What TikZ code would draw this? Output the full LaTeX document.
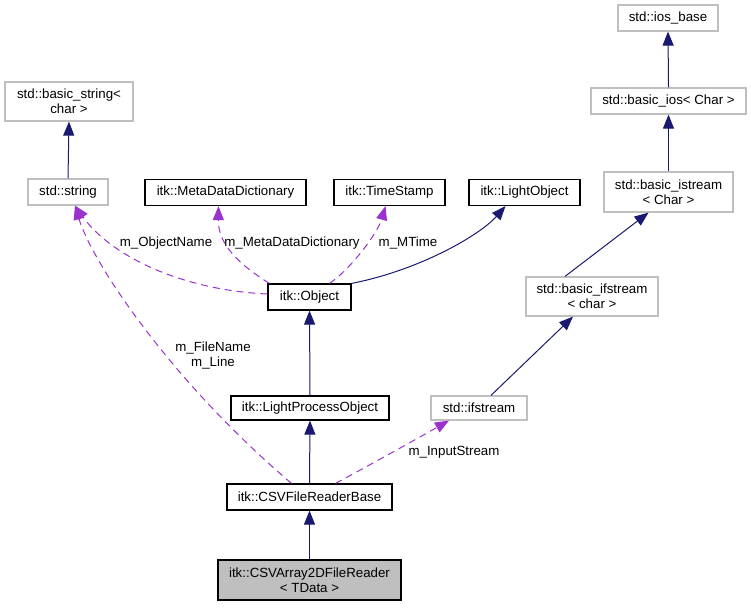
\documentclass[tikz,border=0pt]{standalone}
\usepackage{fontspec}
\setmainfont{Liberation Sans}
\usetikzlibrary{arrows.meta}
\definecolor{navy}{HTML}{191970}
\definecolor{usecol}{HTML}{9A32CD}
\definecolor{stdgray}{HTML}{BFBFBF}
\definecolor{fillgray}{HTML}{BFBFBF}
\begin{document}
\begin{tikzpicture}[x=1pt,y=-1pt,font=\fontsize{13.3}{15}\selectfont,
  box/.style={line width=1.2pt, inner sep=0pt, align=center},
  itkbox/.style={box, draw=black},
  stdbox/.style={box, draw=stdgray},
  mainbox/.style={box, draw=black, fill=fillgray},
  inh/.style={draw=navy, line width=1pt, -{Triangle[length=14pt,width=11pt,fill=navy]}},
  usedep/.style={draw=usecol, line width=1pt, dash pattern=on 7pt off 5pt, -{Triangle[length=14pt,width=11pt,fill=usecol]}},
  lbl/.style={inner sep=0pt, align=center}]
\useasboundingbox (0,0) rectangle (751,607);
% nodes
\node[stdbox, minimum width=128pt, minimum height=39pt] (bstr) at (69,101.5) {std::basic\_string<\\char >};
\node[stdbox, minimum width=80pt, minimum height=26pt] (str) at (68,192) {std::string};
\node[itkbox, minimum width=161pt, minimum height=26pt] (mdd) at (225.5,192.5) {itk::MetaDataDictionary};
\node[itkbox, minimum width=111pt, minimum height=26pt] (ts) at (389.5,192.5) {itk::TimeStamp};
\node[itkbox, minimum width=111pt, minimum height=26pt] (lo) at (524.5,192.5) {itk::LightObject};
\node[stdbox, minimum width=100pt, minimum height=26pt] (iosb) at (668,18) {std::ios\_base};
\node[stdbox, minimum width=155pt, minimum height=26pt] (bios) at (668.5,101) {std::basic\_ios< Char >};
\node[stdbox, minimum width=129pt, minimum height=40pt] (bis) at (668.5,192) {std::basic\_istream\\< Char >};
\node[itkbox, minimum width=83pt, minimum height=26pt] (obj) at (309.5,297) {itk::Object};
\node[stdbox, minimum width=132pt, minimum height=39pt] (bifs) at (592,296.5) {std::basic\_ifstream\\< char >};
\node[itkbox, minimum width=158pt, minimum height=24pt] (lpo) at (310,408) {itk::LightProcessObject};
\node[stdbox, minimum width=96pt, minimum height=24pt] (ifs) at (479,408) {std::ifstream};
\node[itkbox, minimum width=165pt, minimum height=26pt] (csvb) at (309.5,497) {itk::CSVFileReaderBase};
\node[mainbox, minimum width=183pt, minimum height=40pt] (csv) at (309.5,580) {itk::CSVArray2DFileReader\\< TData >};
% inheritance
\draw[inh] (str.north) -- (bstr.south);
\draw[inh] (bios.north) -- (iosb.south);
\draw[inh] (bis.north) -- (bios.south);
\draw[inh] ([xshift=-27pt]bifs.north) -- ([xshift=-20pt]bis.south);
\draw[inh] ([xshift=12pt]ifs.north) -- ([xshift=-19pt]bifs.south);
\draw[inh] (obj.north east) .. controls (420,270) and (480,235) .. ([xshift=-19pt]lo.south);
\draw[inh] (lpo.north) -- (obj.south);
\draw[inh] (csvb.north) -- (lpo.south);
\draw[inh] (csv.north) -- (csvb.south);
% usage
\draw[usedep] ([yshift=3pt]obj.west) .. controls (180,290) and (110,255) .. ([xshift=7pt]str.south);
\draw[usedep] ([xshift=2pt]obj.north west) .. controls (240,265) and (218,245) .. ([xshift=-7pt]mdd.south);
\draw[usedep] ([xshift=20pt]obj.north) .. controls (352,268) and (378,232) .. ([xshift=-4pt]ts.south);
\draw[usedep] ([xshift=-18pt]csvb.north) .. controls (170,380) and (92,262) .. ([xshift=7pt]str.south);
\draw[usedep] ([xshift=26pt]csvb.north) .. controls (370,465) and (420,437) .. ([xshift=-30pt]ifs.south);
% labels
\node[lbl] (l1) at (166,243) {m\_ObjectName};
\node[lbl] (l2) at (292,243) {m\_MetaDataDictionary};
\node[lbl] (l3) at (408,243) {m\_MTime};
\node[lbl] (l4) at (213,355) {m\_FileName\\m\_Line};
\node[lbl] (l5) at (454,452) {m\_InputStream};
\end{tikzpicture}
\end{document}
